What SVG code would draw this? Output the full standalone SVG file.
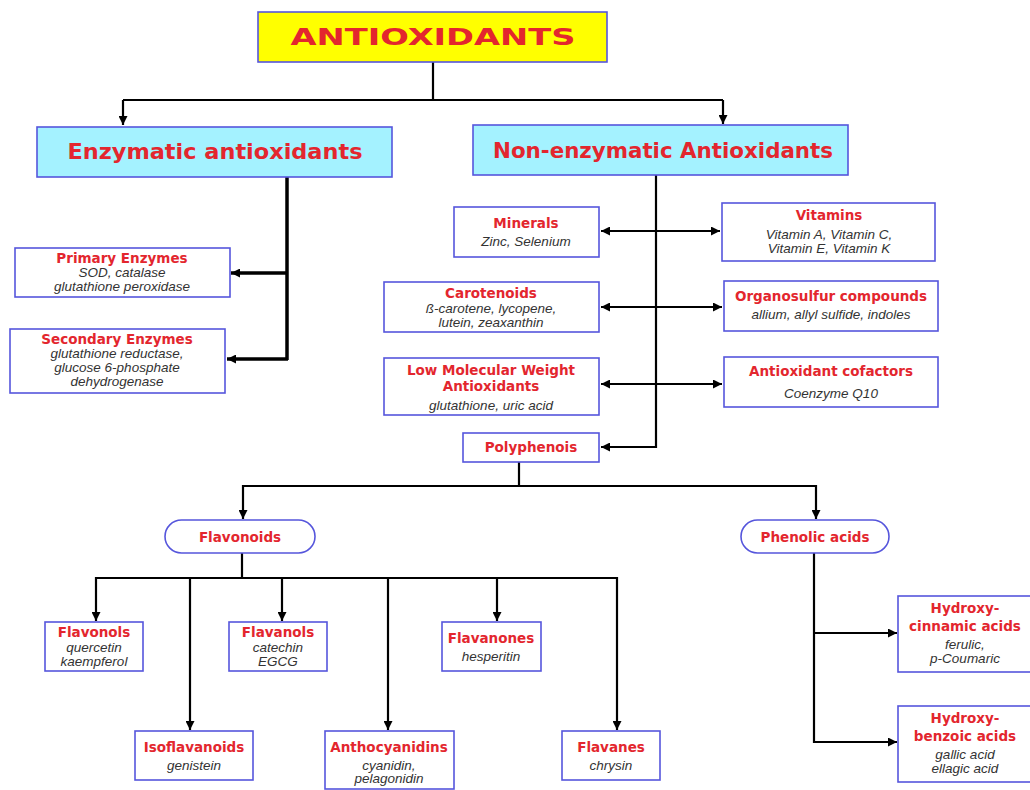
<svg xmlns="http://www.w3.org/2000/svg" width="1030" height="790" viewBox="0 0 1030 790">
<defs>
<marker id="ah" viewBox="0 0 10 10" refX="10" refY="5" markerWidth="9" markerHeight="9" markerUnits="userSpaceOnUse" orient="auto-start-reverse">
<path d="M0,0 L10,5 L0,10 Z" fill="#000"/>
</marker>
<style>
.box{fill:#fff;stroke:#5656dc;stroke-width:1.6}
.hdr{fill:#a4f2ff;stroke:#5656dc;stroke-width:1.6}
.ttl{fill:#ffff00;stroke:#5656dc;stroke-width:1.6}
.c{fill:none;stroke:#000;stroke-width:2.2}
.thick{stroke-width:3.5}
.r{font-family:"DejaVu Sans",sans-serif;font-weight:bold;font-size:13.5px;fill:#e3262e;text-anchor:middle}
.h{font-family:"DejaVu Sans",sans-serif;font-weight:bold;font-size:22px;fill:#e3262e;text-anchor:middle}
.i{font-family:"Liberation Sans",Arial,sans-serif;font-style:italic;font-size:13.5px;fill:#333;text-anchor:middle}
.a{marker-end:url(#ah)}
.b{marker-start:url(#ah);marker-end:url(#ah)}
</style>
</defs>
<rect width="1030" height="790" fill="#fff"/>
<g id="connectors">
<path class="c" d="M433,62 V100 M123,100 H723"/>
<path class="c a" d="M123,100 V125"/>
<path class="c a" d="M723,100 V124"/>
<path class="c thick" d="M287,177 V360"/>
<path class="c thick a" d="M287,273 H231"/>
<path class="c thick a" d="M288,359 H227"/>
<path class="c" d="M656,175 V448"/>
<path class="c a" d="M657,447 H601"/>
<path class="c b" d="M601,231 H720"/>
<path class="c b" d="M601,307 H722"/>
<path class="c b" d="M601,384 H722"/>
<path class="c" d="M519,462 V486 M242,486 H817"/>
<path class="c a" d="M243,485 V519"/>
<path class="c a" d="M816,485 V519"/>
<path class="c" d="M242,553 V578 M95,578 H618"/>
<path class="c a" d="M96,577 V621"/>
<path class="c a" d="M190,577 V730"/>
<path class="c a" d="M282,577 V621"/>
<path class="c a" d="M388,577 V730"/>
<path class="c a" d="M497,577 V621"/>
<path class="c a" d="M617,577 V730"/>
<path class="c" d="M814,553 V743"/>
<path class="c a" d="M813,633 H897"/>
<path class="c a" d="M813,742 H897"/>
</g>
<g id="antioxidants">
<rect class="ttl" x="258" y="12" width="349" height="50"/>
<text x="433" y="45" font-family="'DejaVu Sans',sans-serif" font-weight="bold" font-size="23" fill="#e3262e" text-anchor="middle" textLength="285" lengthAdjust="spacingAndGlyphs">ANTIOXIDANTS</text>
</g>
<g id="enzymatic">
<rect class="hdr" x="37" y="127" width="355" height="50"/>
<text class="h" x="215" y="159" textLength="295" lengthAdjust="spacingAndGlyphs">Enzymatic antioxidants</text>
</g>
<g id="nonenzymatic">
<rect class="hdr" x="473" y="125" width="375" height="50"/>
<text class="h" x="663" y="158" textLength="340" lengthAdjust="spacingAndGlyphs">Non-enzymatic Antioxidants</text>
</g>
<g id="primary">
<rect class="box" x="15" y="248" width="215" height="49"/>
<text class="r" x="122" y="263">Primary Enzymes</text>
<text class="i" x="122" y="277">SOD, catalase</text>
<text class="i" x="122" y="291">glutathione peroxidase</text>
</g>
<g id="secondary">
<rect class="box" x="10" y="329" width="215" height="64"/>
<text class="r" x="117" y="344">Secondary Enzymes</text>
<text class="i" x="117" y="358">glutathione reductase,</text>
<text class="i" x="117" y="372">glucose 6-phosphate</text>
<text class="i" x="117" y="386">dehydrogenase</text>
</g>
<g id="minerals">
<rect class="box" x="454" y="207" width="145" height="50"/>
<text class="r" x="526" y="228">Minerals</text>
<text class="i" x="526" y="246">Zinc, Selenium</text>
</g>
<g id="carotenoids">
<rect class="box" x="384" y="282" width="215" height="50"/>
<text class="r" x="491" y="298">Carotenoids</text>
<text class="i" x="491" y="313">ß-carotene, lycopene,</text>
<text class="i" x="491" y="327">lutein, zeaxanthin</text>
</g>
<g id="lmw">
<rect class="box" x="384" y="358" width="215" height="57"/>
<text class="r" x="491" y="375">Low Molecular Weight</text>
<text class="r" x="491" y="391">Antioxidants</text>
<text class="i" x="491" y="410">glutathione, uric acid</text>
</g>
<g id="polyphenols">
<rect class="box" x="463" y="433" width="136" height="29"/>
<text class="r" x="531" y="452">Polyphenois</text>
</g>
<g id="vitamins">
<rect class="box" x="722" y="203" width="213" height="58"/>
<text class="r" x="829" y="220">Vitamins</text>
<text class="i" x="829" y="239">Vitamin A, Vitamin C,</text>
<text class="i" x="829" y="253">Vitamin E, Vitamin K</text>
</g>
<g id="organosulfur">
<rect class="box" x="724" y="281" width="214" height="50"/>
<text class="r" x="831" y="301" font-size="14">Organosulfur compounds</text>
<text class="i" x="831" y="319">allium, allyl sulfide, indoles</text>
</g>
<g id="cofactors">
<rect class="box" x="724" y="357" width="214" height="50"/>
<text class="r" x="831" y="376" font-size="14">Antioxidant cofactors</text>
<text class="i" x="831" y="398">Coenzyme Q10</text>
</g>
<g id="flavonoids">
<rect class="box" x="165" y="520" width="150" height="33" rx="16.5"/>
<text class="r" x="240" y="542" font-size="14">Flavonoids</text>
</g>
<g id="phenolic">
<rect class="box" x="741" y="520" width="148" height="33" rx="16.5"/>
<text class="r" x="815" y="542" font-size="14">Phenolic acids</text>
</g>
<g id="flavonols">
<rect class="box" x="45" y="622" width="98" height="49"/>
<text class="r" x="94" y="637" font-size="14">Flavonols</text>
<text class="i" x="94" y="652">quercetin</text>
<text class="i" x="94" y="666">kaempferol</text>
</g>
<g id="flavanols">
<rect class="box" x="229" y="622" width="98" height="49"/>
<text class="r" x="278" y="637" font-size="14">Flavanols</text>
<text class="i" x="278" y="652">catechin</text>
<text class="i" x="278" y="666">EGCG</text>
</g>
<g id="flavanones">
<rect class="box" x="442" y="622" width="99" height="49"/>
<text class="r" x="491" y="643" font-size="14">Flavanones</text>
<text class="i" x="491" y="661">hesperitin</text>
</g>
<g id="isoflavanoids">
<rect class="box" x="135" y="731" width="118" height="49"/>
<text class="r" x="194" y="752" font-size="14">Isoflavanoids</text>
<text class="i" x="194" y="770">genistein</text>
</g>
<g id="anthocyanidins">
<rect class="box" x="325" y="731" width="129" height="58"/>
<text class="r" x="389" y="752" font-size="14">Anthocyanidins</text>
<text class="i" x="389" y="770">cyanidin,</text>
<text class="i" x="389" y="783">pelagonidin</text>
</g>
<g id="flavanes">
<rect class="box" x="562" y="731" width="98" height="49"/>
<text class="r" x="611" y="752" font-size="14">Flavanes</text>
<text class="i" x="611" y="770">chrysin</text>
</g>
<g id="hydroxycinnamic">
<rect class="box" x="898" y="596" width="140" height="76"/>
<text class="r" x="965" y="613" font-size="14">Hydroxy-</text>
<text class="r" x="965" y="631" font-size="14">cinnamic acids</text>
<text class="i" x="965" y="649">ferulic,</text>
<text class="i" x="965" y="663">p-Coumaric</text>
</g>
<g id="hydroxybenzoic">
<rect class="box" x="898" y="706" width="140" height="76"/>
<text class="r" x="965" y="723" font-size="14">Hydroxy-</text>
<text class="r" x="965" y="741" font-size="14">benzoic acids</text>
<text class="i" x="965" y="759">gallic acid</text>
<text class="i" x="965" y="773">ellagic acid</text>
</g>
</svg>
